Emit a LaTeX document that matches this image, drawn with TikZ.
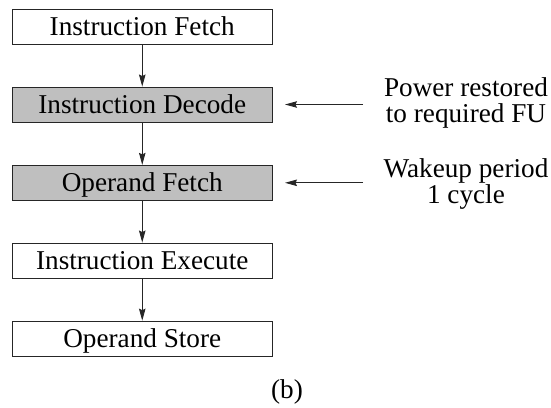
\documentclass[tikz,border=0pt]{standalone}
\usepackage{fontspec}
\setmainfont{Liberation Serif}
\usetikzlibrary{arrows.meta}
\begin{document}
\begin{tikzpicture}[x=1pt,y=-1pt,
  font=\fontsize{27.2}{26.5}\selectfont,
  stage/.style={draw=black!85, line width=0.9pt, rectangle, minimum width=259.5pt,
    minimum height=35pt, inner sep=0pt, text height=18pt, text depth=0pt},
  active/.style={stage, fill=black!25},
  flow/.style={draw=black!85, line width=0.9pt, -{Stealth[length=12pt,width=6.5pt,inset=1.5pt]}},
  note/.style={align=center, inner sep=0pt, anchor=north}]
  \useasboundingbox (0,0) rectangle (551,407);

  % pipeline stages
  \node[stage]  (fetch)   at (142.25, 26.5)  {Instruction Fetch};
  \node[active] (decode)  at (142.25, 104.5) {Instruction Decode};
  \node[active] (opfetch) at (142.25, 182.8) {Operand Fetch};
  \node[stage]  (exec)    at (142.25, 260.5) {Instruction Execute};
  \node[stage]  (store)   at (142.25, 338.6) {Operand Store};

  \draw[flow] (fetch) -- (decode);
  \draw[flow] (decode) -- (opfetch);
  \draw[flow] (opfetch) -- (exec);
  \draw[flow] (exec) -- (store);

  % annotations on the right
  \node[note] (power) at (466, 77.2) {Power restored\\to required FU};
  \node[note] (wake)  at (466, 158.2) {Wakeup period\\1 cycle};
  \coordinate (pw) at (363, 104.5);
  \coordinate (wk) at (363, 182.8);
  \coordinate (pwtip) at (285, 104.5);
  \coordinate (wktip) at (285, 182.8);
  \draw[flow] (pw) -- (pwtip);
  \draw[flow] (wk) -- (wktip);

  % caption
  \node[anchor=base, inner sep=0pt] (cap) at (287, 398.5) {(b)};
\end{tikzpicture}
\end{document}
